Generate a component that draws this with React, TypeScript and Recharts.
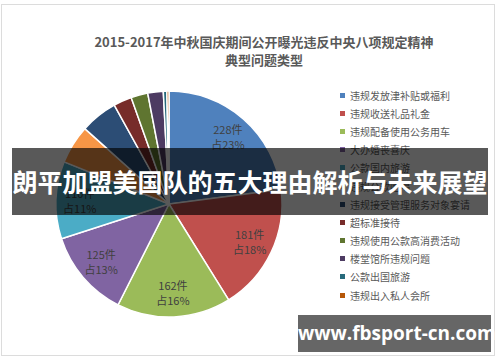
import React from 'react';
import { PieChart, Pie, Cell, Legend } from 'recharts';

// 问题类型
const categories = [
  '违规发放津补贴或福利',
  '违规收送礼品礼金',
  '违规配备使用公务用车',
  '大办婚丧喜庆',
  '公款国内旅游',
  '违规公款吃喝',
  '违规接受管理服务对象宴请',
  '超标准接待',
  '违规使用公款高消费活动',
  '楼堂馆所违规问题',
  '公款出国旅游',
  '违规出入私人会所',
];

// 件数
const counts = [228, 181, 162, 125, 110, 55, 53, 26, 24, 22, 5, 3];

const colors = [
  '#4f81bd', '#c0504d', '#9bbb59', '#8064a2', '#4bacc6', '#f79646',
  '#2c4d75', '#772c2a', '#5f7530', '#4d3b62', '#276a7c', '#b65708',
];

// only the large slices carry a label
const labelledSlices = 5;

const titleLines = ['2015-2017年中秋国庆期间公开曝光违反中央八项规定精神', '典型问题类型'];
const bannerText = '朗平加盟美国队的五大理由解析与未来展望';
const watermark = 'www.fbsport-cn.com';

const FONT = '"Noto Sans CJK SC", "Noto Sans", sans-serif';
const RADIAN = Math.PI / 180;

const data = categories.map((name, i) => ({ name, value: counts[i], color: colors[i] }));
const total = counts.reduce((s, v) => s + v, 0);

const renderLabel = (props: any) => {
  const { cx, cy, midAngle, outerRadius, index, value } = props;
  if (index >= labelledSlices) return null;
  const r = outerRadius * 0.79;
  const x = cx + r * Math.cos(-midAngle * RADIAN);
  const y = cy + r * Math.sin(-midAngle * RADIAN);
  const pct = Math.round((value / total) * 100);
  return (
    <text x={x} y={y} textAnchor="middle" fill="#404040" fontSize={11} fontFamily={FONT}>
      <tspan x={x} dy={-3}>{`${value}件`}</tspan>
      <tspan x={x} dy={15}>{`占${pct}%`}</tspan>
    </text>
  );
};

const renderLegend = () => (
  <ul style={{ listStyle: 'none', margin: 0, padding: 0 }}>
    {data.map((entry, i) => (
      <li
        key={`legend-${i}`}
        style={{ display: 'flex', alignItems: 'center', height: 18.2, fontSize: 10, color: '#595959', fontFamily: FONT }}
      >
        <span style={{ width: 5, height: 5, background: entry.color, marginRight: 5, display: 'inline-block' }} />
        <span>{entry.name}</span>
      </li>
    ))}
  </ul>
);

export default function App() {
  return (
    <div style={{ position: 'fixed', left: 0, top: 0, width: 500, height: 362, background: '#fff', overflow: 'hidden' }}>
      <div style={{ position: 'absolute', left: 1, top: 4, width: 492, height: 350, border: '1px solid #dcdcdc' }} />
      <div
        style={{
          position: 'absolute', left: 0, top: 33, width: 528, textAlign: 'center',
          fontFamily: FONT, fontWeight: 700, fontSize: 13, lineHeight: '18px', color: '#595959',
        }}
      >
        {titleLines.map((t) => <div key={t}>{t}</div>)}
      </div>
      <div style={{ position: 'absolute', left: 0, top: 0 }}>
        <PieChart width={500} height={362}>
          <Pie
            data={data}
            dataKey="value"
            nameKey="name"
            cx={164}
            cy={199}
            outerRadius={113}
            startAngle={90}
            endAngle={-270}
            stroke="#fff"
            strokeWidth={1.5}
            label={renderLabel}
            labelLine={false}
            isAnimationActive={false}
          >
            {data.map((entry, index) => (
              <Cell key={`cell-${index}`} fill={entry.color} />
            ))}
          </Pie>
          <Legend
            layout="vertical"
            content={renderLegend}
            wrapperStyle={{ position: 'absolute', left: 340, top: 86, width: 150 }}
          />
        </PieChart>
      </div>
      <div
        style={{
          position: 'absolute', left: 12, top: 148, width: 476, height: 67,
          background: 'rgba(0,0,0,0.65)', color: '#fff', fontFamily: FONT, fontWeight: 700,
          fontSize: 25, lineHeight: '67px', textAlign: 'center', whiteSpace: 'nowrap',
        }}
      >
        {bannerText}
      </div>
      <div
        style={{
          position: 'absolute', left: 298, top: 315, width: 193, height: 37,
          background: '#666', color: '#fff', fontFamily: '"Open Sans", "DejaVu Sans", sans-serif', fontWeight: 700,
          fontSize: 19, lineHeight: '37px', textAlign: 'center', whiteSpace: 'nowrap',
        }}
      >
        {watermark}
      </div>
    </div>
  );
}
